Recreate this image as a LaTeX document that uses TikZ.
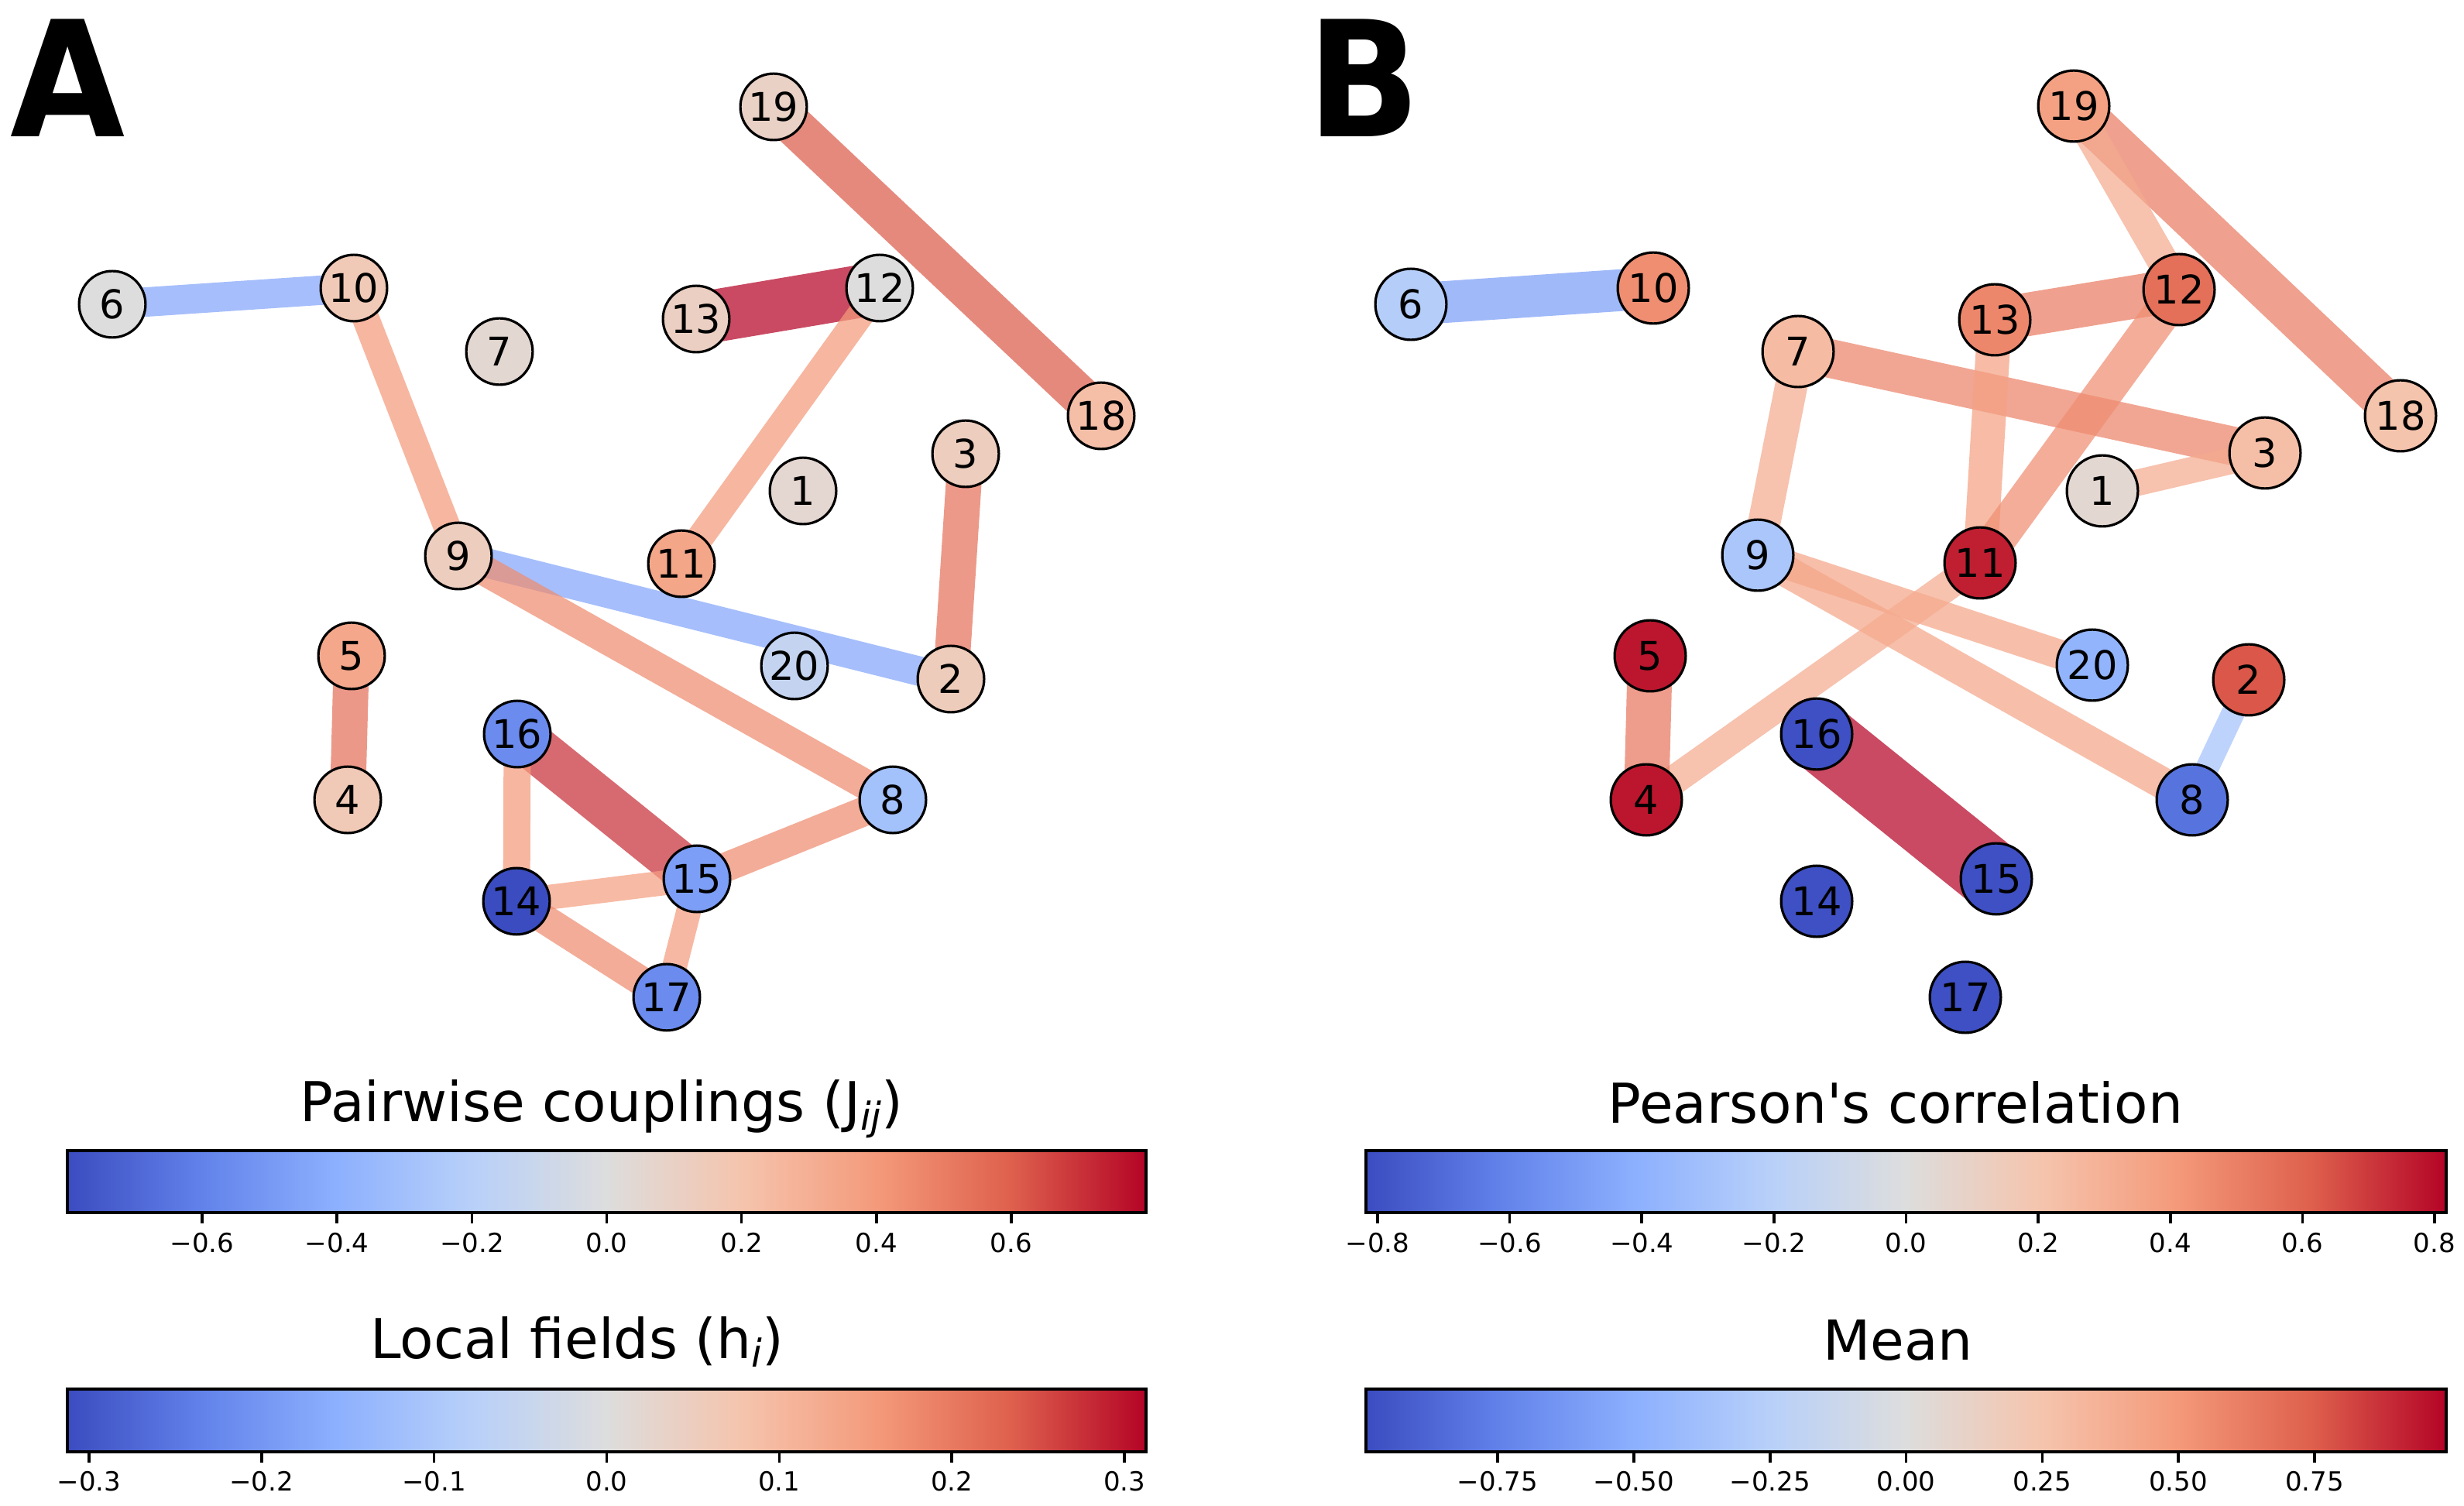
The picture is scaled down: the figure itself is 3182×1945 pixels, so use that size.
\documentclass[tikz,border=0pt]{standalone}
\usepackage{fontspec}
\setmainfont{DejaVu Sans}[Ligatures=TeXOff]
\pgfdeclarelayer{edges}
\pgfsetlayers{edges,main}
% coolwarm key colours
\definecolor{cw0}{RGB}{59,76,192}
\definecolor{cw1}{RGB}{98,130,234}
\definecolor{cw2}{RGB}{141,176,254}
\definecolor{cw3}{RGB}{184,208,249}
\definecolor{cw4}{RGB}{221,221,221}
\definecolor{cw5}{RGB}{245,196,173}
\definecolor{cw6}{RGB}{244,154,123}
\definecolor{cw7}{RGB}{222,96,77}
\definecolor{cw8}{RGB}{180,4,38}
\pgfdeclarehorizontalshading{coolwarm}{100bp}{color(0bp)=(cw0); color(25bp)=(cw0); color(31.25bp)=(cw1); color(37.5bp)=(cw2); color(43.75bp)=(cw3); color(50bp)=(cw4); color(56.25bp)=(cw5); color(62.5bp)=(cw6); color(68.75bp)=(cw7); color(75bp)=(cw8); color(100bp)=(cw8)}
% colour name, normalised value in [-1,1]
\newcommand\setcw[2]{%
  \pgfmathsetmacro\cwt{max(0,min(1,(#2+1)/2))*8}%
  \pgfmathtruncatemacro\cwi{min(7,floor(\cwt))}%
  \pgfmathsetmacro\cwf{(\cwt-\cwi)*100}%
  \pgfmathtruncatemacro\cwj{\cwi+1}%
  \edef\cwtmp{\noexpand\colorlet{#1}{cw\cwj!\cwf!cw\cwi}}\cwtmp}
\newcommand\cwnode[6]{\setcw{nodec}{#5}\node[#1, fill=nodec] (#2) at (#3,#4) {#6};}
\newcommand\cwedge[4]{\setcw{edgec}{#3}\draw[edgeline, draw=edgec, line width=#4*0.25pt] (#1.center) -- (#2.center);}
\newcommand\nodefont{\fontsize{12.75}{15}\selectfont}
\newcommand\tickfont{\fontsize{8.5}{10}\selectfont}
\newcommand\titlefont{\fontsize{17.75}{21}\selectfont}
\newcommand\letterfont{\fontsize{52}{60}\selectfont\bfseries}
\newcommand\subtxt[1]{\raisebox{-2.9pt}{\fontsize{12.4}{14}\selectfont\itshape #1}}
\begin{document}
\begin{tikzpicture}[x=0.25pt, y=-0.25pt,
  anode/.style={circle, draw=black, line width=0.8pt, minimum size=21.45pt, inner sep=0pt, font=\nodefont},
  bnode/.style={circle, draw=black, line width=0.8pt, minimum size=22.95pt, inner sep=0pt, font=\nodefont},
  edgeline/.style={draw opacity=0.72, line cap=butt},
  cbframe/.style={draw=black, line width=1pt},
  tickline/.style={draw=black, line width=0.9pt},
  ticklab/.style={anchor=base, inner sep=0pt, font=\tickfont},
  cbtitle/.style={anchor=base, inner sep=0pt, font=\titlefont},
  letter/.style={anchor=base west, inner sep=0pt, font=\letterfont}]
\useasboundingbox (0,0) rectangle (3182,1945);

% ---------- Panel A nodes ----------
\cwnode{anode}{a1}{1037}{634}{0.07}{1}
\cwnode{anode}{a2}{1228}{877}{0.175}{2}
\cwnode{anode}{a3}{1247}{586}{0.16}{3}
\cwnode{anode}{a4}{449}{1033}{0.2}{4}
\cwnode{anode}{a5}{454}{847}{0.42}{5}
\cwnode{anode}{a6}{145}{393}{0}{6}
\cwnode{anode}{a7}{645}{454}{0.06}{7}
\cwnode{anode}{a8}{1153}{1033}{-0.37}{8}
\cwnode{anode}{a9}{592}{718}{0.16}{9}
\cwnode{anode}{a10}{457}{372}{0.2}{10}
\cwnode{anode}{a11}{880}{728}{0.43}{11}
\cwnode{anode}{a12}{1136}{372}{0}{12}
\cwnode{anode}{a13}{899}{412}{0.14}{13}
\cwnode{anode}{a14}{667}{1164}{-1}{14}
\cwnode{anode}{a15}{900}{1135}{-0.6}{15}
\cwnode{anode}{a16}{668}{948}{-0.7}{16}
\cwnode{anode}{a17}{861}{1288}{-0.7}{17}
\cwnode{anode}{a18}{1422}{537}{0.28}{18}
\cwnode{anode}{a19}{999}{138}{0.12}{19}
\cwnode{anode}{a20}{1026}{860}{-0.17}{20}

% ---------- Panel B nodes ----------
\cwnode{bnode}{b1}{2715}{634}{0.06}{1}
\cwnode{bnode}{b2}{2904}{878}{0.775}{2}
\cwnode{bnode}{b3}{2925}{585}{0.28}{3}
\cwnode{bnode}{b4}{2126}{1033}{0.95}{4}
\cwnode{bnode}{b5}{2131}{847}{0.95}{5}
\cwnode{bnode}{b6}{1822}{393}{-0.27}{6}
\cwnode{bnode}{b7}{2322}{454}{0.3}{7}
\cwnode{bnode}{b8}{2831}{1033}{-0.82}{8}
\cwnode{bnode}{b9}{2270}{717}{-0.33}{9}
\cwnode{bnode}{b10}{2135}{372}{0.55}{10}
\cwnode{bnode}{b11}{2557}{727}{0.93}{11}
\cwnode{bnode}{b12}{2814}{374}{0.68}{12}
\cwnode{bnode}{b13}{2576}{413}{0.58}{13}
\cwnode{bnode}{b14}{2346}{1164}{-0.98}{14}
\cwnode{bnode}{b15}{2578}{1135}{-0.98}{15}
\cwnode{bnode}{b16}{2346}{948}{-0.98}{16}
\cwnode{bnode}{b17}{2538}{1288}{-0.98}{17}
\cwnode{bnode}{b18}{3100}{537}{0.25}{18}
\cwnode{bnode}{b19}{2678}{137}{0.46}{19}
\cwnode{bnode}{b20}{2702}{859}{-0.47}{20}

% ---------- Edges ----------
\begin{pgfonlayer}{edges}
\cwedge{a6}{a10}{-0.56}{38}
\cwedge{a10}{a9}{0.5}{35}
\cwedge{a13}{a12}{1}{68}
\cwedge{a12}{a11}{0.5}{35}
\cwedge{a19}{a18}{0.76}{52}
\cwedge{a3}{a2}{0.675}{46}
\cwedge{a9}{a2}{-0.56}{38}
\cwedge{a9}{a8}{0.56}{39}
\cwedge{a5}{a4}{0.68}{46}
\cwedge{a16}{a15}{0.88}{60}
\cwedge{a16}{a14}{0.5}{35}
\cwedge{a14}{a15}{0.47}{32}
\cwedge{a15}{a8}{0.56}{38}
\cwedge{a14}{a17}{0.56}{38}
\cwedge{a15}{a17}{0.48}{32}

\cwedge{b6}{b10}{-0.6}{54}
\cwedge{b19}{b18}{0.63}{55}
\cwedge{b19}{b12}{0.4}{40}
\cwedge{b13}{b12}{0.63}{56}
\cwedge{b7}{b3}{0.6}{50}
\cwedge{b13}{b11}{0.46}{44}
\cwedge{b12}{b11}{0.55}{48}
\cwedge{b7}{b9}{0.4}{42}
\cwedge{b1}{b3}{0.4}{34}
\cwedge{b9}{b20}{0.43}{38}
\cwedge{b9}{b8}{0.43}{41}
\cwedge{b11}{b4}{0.4}{38}
\cwedge{b5}{b4}{0.65}{58}
\cwedge{b16}{b15}{1}{90}
\cwedge{b2}{b8}{-0.36}{30}
\end{pgfonlayer}

% ---------- Panel letters ----------
\node[letter] (labA) at (13,177) {\scalebox{0.92}[1]{A}};
\node[letter] (labB) at (1688,177) {\scalebox{0.92}[1]{B}};

% ---------- Colour bars ----------
\node[cbtitle] (tA1) at (777,1448) {Pairwise couplings (J\subtxt{ij})};
\shade[shading=coolwarm] (87,1486) rectangle (1480,1566);
\draw[cbframe] (87,1486) rectangle (1480,1566);
\foreach \v/\s [count=\k] in {-0.6/−0.6,-0.4/−0.4,-0.2/−0.2,0/0.0,0.2/0.2,0.4/0.4,0.6/0.6}{
  \draw[tickline] ({783.5+\v/0.8*696.5},1566) -- ++(0,14);
  \node[ticklab] (ta\k) at ({783.5+\v/0.8*696.5},1617) {\s};
}

\node[cbtitle] (tA2) at (745,1754) {Local fields (h\subtxt{i})};
\shade[shading=coolwarm] (87,1794) rectangle (1480,1875);
\draw[cbframe] (87,1794) rectangle (1480,1875);
\foreach \v/\s [count=\k] in {-0.3/−0.3,-0.2/−0.2,-0.1/−0.1,0/0.0,0.1/0.1,0.2/0.2,0.3/0.3}{
  \draw[tickline] ({783.5+\v/0.3125*696.5},1875) -- ++(0,14);
  \node[ticklab] (tb\k) at ({783.5+\v/0.3125*696.5},1925) {\s};
}

\node[cbtitle] (tB1) at (2448,1450) {Pearson's correlation};
\shade[shading=coolwarm] (1764,1486) rectangle (3159,1566);
\draw[cbframe] (1764,1486) rectangle (3159,1566);
\foreach \v/\s [count=\k] in {-0.8/−0.8,-0.6/−0.6,-0.4/−0.4,-0.2/−0.2,0/0.0,0.2/0.2,0.4/0.4,0.6/0.6,0.8/0.8}{
  \draw[tickline] ({2461.5+\v/0.8176*697.5},1566) -- ++(0,14);
  \node[ticklab] (tc\k) at ({2461.5+\v/0.8176*697.5},1617) {\s};
}

\node[cbtitle] (tB2) at (2451,1756) {Mean};
\shade[shading=coolwarm] (1764,1794) rectangle (3159,1875);
\draw[cbframe] (1764,1794) rectangle (3159,1875);
\foreach \v/\s [count=\k] in {-0.75/−0.75,-0.5/−0.50,-0.25/−0.25,0/0.00,0.25/0.25,0.5/0.50,0.75/0.75}{
  \draw[tickline] ({2461.5+\v/0.9917*697.5},1875) -- ++(0,14);
  \node[ticklab] (td\k) at ({2461.5+\v/0.9917*697.5},1925) {\s};
}
\end{tikzpicture}
\end{document}
